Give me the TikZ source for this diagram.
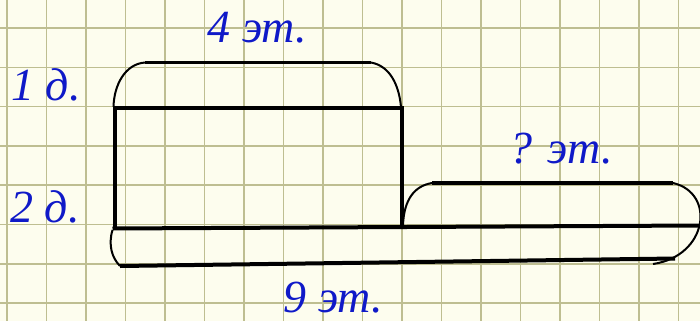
\documentclass[tikz,border=0pt]{standalone}
\usepackage{fontspec}
\setmainfont{Liberation Serif}
\definecolor{paper}{RGB}{253,253,238}
\definecolor{gridc}{RGB}{190,190,145}
\definecolor{inkblue}{RGB}{15,25,200}
\tikzset{
  gridline/.style={draw=gridc, line width=1.6pt},
  sideline/.style={line width=4.8pt},
  bar/.style={line width=4pt},
  bracebar/.style={line width=3.5pt},
  bracearc/.style={line width=2pt},
  lbl/.style={text=inkblue, font=\fontsize{46}{50}\selectfont\itshape, inner sep=0pt, anchor=base}
}
\begin{document}
\begin{tikzpicture}[x=1pt,y=-1pt]
\fill[paper] (0,0) rectangle (700,321);
\useasboundingbox (0,0) rectangle (700,321);
% grid
\foreach \k in {0,...,17} { \draw[gridline] ({7+39.5*\k},0) -- ({7+39.5*\k},321); }
\foreach \k in {0,...,7} { \draw[gridline] (0,{28+39.3*\k}) -- (700,{28+39.3*\k}); }
% coordinates
\coordinate (tl) at (115,108);
\coordinate (tr) at (402,108);
\coordinate (bl) at (115,229);
\coordinate (br) at (402,227);
\coordinate (baseL) at (112.5,228.5);
\coordinate (baseR) at (700,225.5);
\coordinate (b1L) at (145,62.5);
\coordinate (b1R) at (371,62.5);
\coordinate (b2L) at (432,183);
\coordinate (b2R) at (673,183);
\coordinate (b3L) at (120,266);
\coordinate (b3R) at (675,258.5);
\coordinate (hook) at (653,264);
% rectangle
\draw[bar] (tl) -- (tr);
\draw[sideline] (115,106) -- (bl);
\draw[sideline] (402,106) -- (br);
\draw[bar] (baseL) -- (baseR);
% brace 4 et
\draw[bracebar] (b1L) -- (b1R);
\draw[bracearc] (b1L) .. controls (125,64) and (114,85) .. (113.5,107);
\draw[bracearc] (b1R) .. controls (390,66) and (399,85) .. (401,107);
% brace ? et
\draw[bracebar] (b2L) -- (b2R);
\draw[bracearc] (b2L) .. controls (414,186) and (404,200) .. (403,225);
\draw[bracearc] (b2R) .. controls (716,193) and (708,256) .. (hook);
% brace 9 et
\draw[bar] (b3L) -- (b3R);
\draw[bracearc] (112.5,230) .. controls (108,245) and (112,258) .. (b3L);
% labels
\node[lbl] (l4) at (257.5,42) {4 эт.};
\node[lbl] (l1) at (46,100) {1 д.};
\node[lbl] (l2) at (45,222) {2 д.};
\node[lbl] (lq) at (561,163) {? эт.};
\node[lbl] (l9) at (333.5,312) {9 эт.};
\end{tikzpicture}
\end{document}
